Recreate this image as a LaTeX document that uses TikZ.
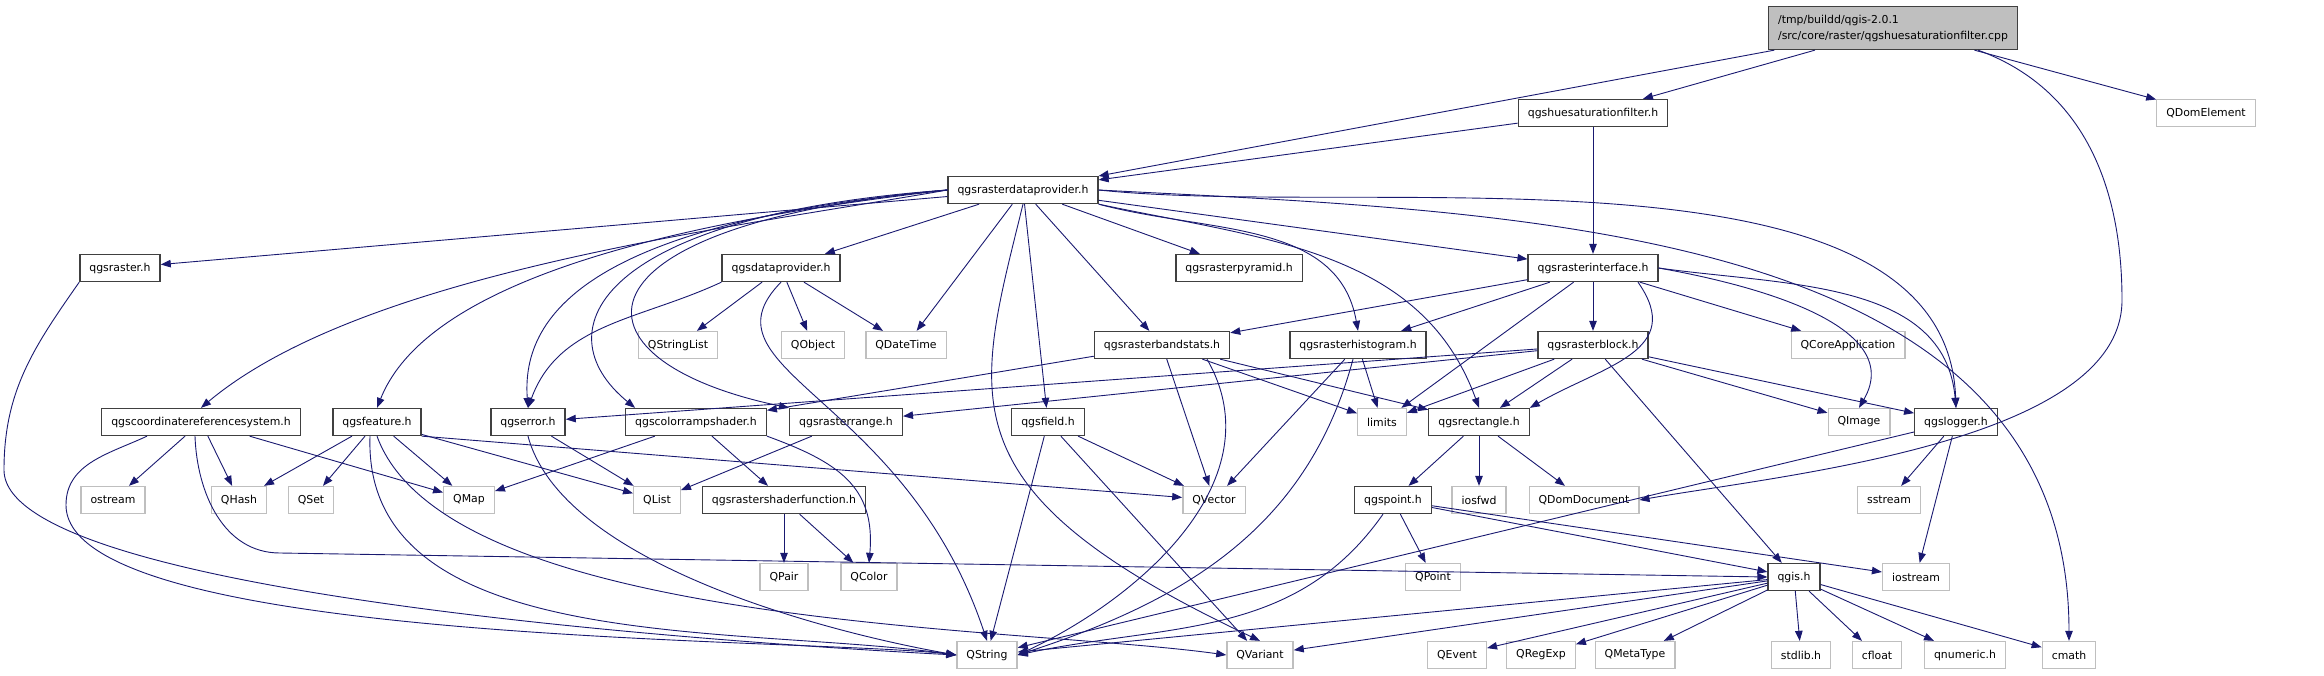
\documentclass[tikz,border=0pt]{standalone}
\usepackage{fontspec}
\setmainfont{DejaVu Sans}
\usetikzlibrary{arrows.meta, positioning}
\definecolor{incblue}{RGB}{25,25,112}
\definecolor{sysgray}{RGB}{191,191,191}
\tikzset{
  hdr/.style={draw=black!75, line width=1.3pt, fill=white, inner xsep=9.5pt, inner ysep=0pt,
              minimum height=27pt, font=\fontsize{10.9}{13}\selectfont},
  sys/.style={hdr, draw=sysgray},
  dep/.style={incblue, line width=0.9pt, -{Triangle[length=10pt,width=7.5pt]}},
}

\begin{document}
\begin{tikzpicture}[x=1pt,y=1pt]
        \useasboundingbox (0,0) rectangle (2324,-675);

        % --- Fichier source ---
        \node[hdr, fill=sysgray, align=left, minimum height=43pt,
              font=\fontsize{10.9}{16}\selectfont] (root) at (1893,-28)
              {/tmp/buildd/qgis-2.0.1\\/src/core/raster/qgshuesaturationfilter.cpp};

        % --- En-tetes du projet ---
        \foreach \n/\x/\y/\t in {hue/1593/113/qgshuesaturationfilter.h,
                                 rdp/1023/190/qgsrasterdataprovider.h,
                                 raster/120/268/qgsraster.h, dataprov/781/268/qgsdataprovider.h,
                                 pyramid/1239/268/qgsrasterpyramid.h, rinterface/1593/268/qgsrasterinterface.h,
                                 bandstats/1162/345/qgsrasterbandstats.h, histogram/1358/345/qgsrasterhistogram.h,
                                 rblock/1593/345/qgsrasterblock.h,
                                 crs/201/422/qgscoordinatereferencesystem.h, feature/377/422/qgsfeature.h,
                                 error/528/422/qgserror.h, colorramp/696/422/qgscolorrampshader.h,
                                 rrange/846/422/qgsrasterrange.h, field/1048/422/qgsfield.h,
                                 rect/1479/422/qgsrectangle.h, logger/1956/422/qgslogger.h,
                                 shaderfn/784/500/qgsrastershaderfunction.h, point/1393/500/qgspoint.h,
                                 qgis/1794/577/qgis.h} {
            \node[hdr] (\n) at (\x,-\y) {\t};
        }

        % --- En-tetes systeme / Qt ---
        \foreach \n/\x/\y/\t in {qdomelement/2206/113/QDomElement,
                                 qstringlist/678/345/QStringList, qobject/813/345/QObject,
                                 qdatetime/906/345/QDateTime, qcoreapp/1848/345/QCoreApplication,
                                 limits/1382/422/limits, qimage/1859/422/QImage,
                                 ostream/113/500/ostream, qhash/239/500/QHash, qset/311/500/QSet,
                                 qmap/469/500/QMap, qlist/657/500/QList, qvector/1214/500/QVector,
                                 iosfwd/1479/500/iosfwd, qdomdoc/1584/500/QDomDocument, sstream/1889/500/sstream,
                                 qpair/784/577/QPair, qcolor/869/577/QColor, qpoint/1433/577/QPoint,
                                 iostream/1916/577/iostream,
                                 qstring/987/655/QString, qvariant/1260/655/QVariant, qevent/1457/655/QEvent,
                                 qregexp/1541/655/QRegExp, qmetatype/1635/655/QMetaType, stdlib/1801/655/stdlib.h,
                                 cfloat/1877/655/cfloat, qnumeric/1965/655/qnumeric.h, cmath/2069/655/cmath} {
            \node[sys] (\n) at (\x,-\y) {\t};
        }

        % --- Inclusions directes ---
        \foreach \a/\b in {root/hue, root/qdomelement, root/rdp, hue/rdp, hue/rinterface,
                           rdp/raster, rdp/dataprov, rdp/pyramid, rdp/rinterface, rdp/qdatetime,
                           rdp/field, rdp/bandstats,
                           dataprov/qstringlist, dataprov/qobject, dataprov/qdatetime,
                           rinterface/bandstats, rinterface/histogram, rinterface/limits,
                           rinterface/rblock, rinterface/qcoreapp,
                           bandstats/colorramp, bandstats/qvector, bandstats/limits, bandstats/rect,
                           histogram/qvector, histogram/limits,
                           rblock/error, rblock/rrange, rblock/limits, rblock/rect, rblock/qgis,
                           rblock/qimage, rblock/logger,
                           crs/ostream, crs/qhash, crs/qmap,
                           feature/qhash, feature/qset, feature/qmap, feature/qlist,
                           error/qlist, colorramp/qmap, colorramp/shaderfn, rrange/qlist,
                           field/qstring, field/qvariant, field/qvector,
                           rect/point, rect/iosfwd, rect/qdomdoc,
                           logger/qstring, logger/sstream, logger/iostream,
                           shaderfn/qpair, shaderfn/qcolor,
                           point/qpoint, point/qgis, point/iostream,
                           qgis/qstring, qgis/qvariant, qgis/qevent, qgis/qregexp, qgis/qmetatype,
                           qgis/stdlib, qgis/cfloat, qgis/qnumeric, qgis/cmath} {
            \draw[dep] (\a) -- (\b);
        }
        \draw[dep] (feature.south east) -- (qvector);

        % --- Inclusions courbes ---
        \draw[dep] ([xshift=85pt]root.south) to[out=-20,in=90] (2122,-300)
                   to[out=-90,in=10,looseness=0.7] (qdomdoc.east);
        \draw[dep] (rdp.east) to[out=-3,in=90] (cmath.north);
        \draw[dep] (rdp.east) to[out=-6,in=92,looseness=0.8] (logger.north);
        \draw[dep] (rinterface.east) to[out=-8,in=95] (logger.north);
        \draw[dep] (rinterface.east) to[out=-10,in=60] (qimage.north);
        \draw[dep] ([xshift=45pt]rinterface.south) to[out=-55,in=30,looseness=1.3] (rect.north east);
        \draw[dep] (rdp.south east) to[out=-15,in=100] (histogram.north);
        \draw[dep] (rdp.south east) to[out=-12,in=110] (rect.north);
        \draw[dep] (rdp.south) .. controls (975,-400) and (940,-490) .. (qvariant.north);
        \draw[dep] (rdp.west) to[out=190,in=40,looseness=0.7] (crs.north);
        \draw[dep] (rdp.west) .. controls (600,-230) and (420,-300) .. (feature.north);
        \draw[dep] (rdp.west) .. controls (620,-220) and (520,-300) .. (error.north);
        \draw[dep] (rdp.west) .. controls (600,-215) and (540,-330) .. ([xshift=10pt]colorramp.north west);
        \draw[dep] (rdp.west) .. controls (560,-225) and (560,-360) .. (rrange.north west);
        \draw[dep] (dataprov.south west) to[out=-155,in=70] (error.north);
        \draw[dep] (dataprov.south) .. controls (695,-370) and (905,-395) .. (qstring.north);
        \draw[dep] (raster.south west) to[out=-125,in=90] (4,-470)
                   to[out=-90,in=177,looseness=0.35] (qstring.west);
        \draw[dep] ([xshift=-54pt]crs.south) to[out=-155,in=90] (66,-505)
                   to[out=-90,in=173,looseness=0.4] (qstring.west);
        \draw[dep] ([xshift=-6pt]crs.south) to[out=-88,in=180] (280,-553) -- (qgis.west);
        \draw[dep] ([xshift=-7pt]feature.south) to[out=-92,in=172,looseness=0.9] (qstring.west);
        \draw[dep] (feature.south) to[out=-70,in=172,looseness=0.6] (qvariant.west);
        \draw[dep] (error.south) to[out=-75,in=170,looseness=0.7] (qstring.west);
        \draw[dep] (colorramp.south east) to[out=-20,in=85,looseness=1.2] (qcolor.north);
        \draw[dep] ([xshift=45pt]bandstats.south) to[out=-60,in=25] (qstring.east);
        \draw[dep] ([xshift=-5pt]histogram.south) to[out=-105,in=18] (qstring.east);
        \draw[dep] ([xshift=-10pt]point.south) to[out=-125,in=12] (qstring.east);
\end{tikzpicture}
\end{document}
